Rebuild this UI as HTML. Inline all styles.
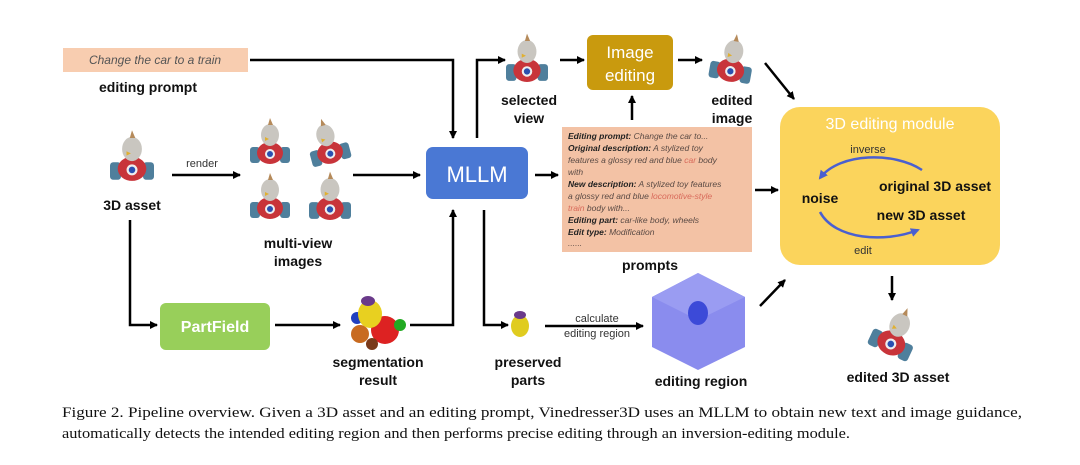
<!DOCTYPE html>
<html><head><meta charset="utf-8"><style>
html,body{margin:0;padding:0;background:#fff;}
svg{display:block;}
text{font-family:"Liberation Sans","DejaVu Sans",sans-serif;}
.lb{font-size:14px;font-weight:bold;fill:#111;text-anchor:middle;}
.pr{font-size:8.5px;font-style:italic;fill:#5a4a44;}
.pb{font-weight:bold;fill:#222;}
</style></head><body>
<svg width="1080" height="465" viewBox="0 0 1080 465" xmlns="http://www.w3.org/2000/svg">
<defs>
<marker id="ah" markerWidth="8" markerHeight="8" refX="7" refY="4" orient="auto" markerUnits="userSpaceOnUse">
<path d="M0,0 L8,4 L0,8 z" fill="#000"/></marker>
<marker id="bh" markerWidth="9" markerHeight="9" refX="7" refY="4.5" orient="auto" markerUnits="userSpaceOnUse">
<path d="M0,0 L9,4.5 L0,9 z" fill="#4a5fd0"/></marker>
<g id="toy">
<rect x="-20" y="2" width="10" height="16" rx="3" fill="#4f7f9c"/>
<rect x="10" y="2" width="10" height="16" rx="3" fill="#4f7f9c"/>
<ellipse cx="0" cy="8" rx="13" ry="11" fill="#c8343a"/>
<circle cx="0" cy="9" r="5" fill="#eee"/><circle cx="0" cy="9" r="3" fill="#2a50b0"/>
<ellipse cx="0" cy="-10" rx="9" ry="11" fill="#c9c6c0"/>
<path d="M-2,-20 L0,-27 L3,-20z" fill="#b58a5a"/>
<path d="M-5,-8 L-1,-6 L-5,-4z" fill="#e0b030"/>
</g>
</defs>

<rect x="63" y="48" width="185" height="24" fill="#f8cdb0"/>
<text x="155" y="64" text-anchor="middle" style="font-size:12px;font-style:italic;fill:#555">Change the car to a train</text>
<text x="148" y="92" class="lb">editing prompt</text>
<path d="M250,60 H453 V138" fill="none" stroke="#000" stroke-width="2.5" marker-end="url(#ah)"/>

<use href="#toy" transform="translate(132,160) scale(1.1)"/>
<text x="132" y="210" class="lb">3D asset</text>
<text x="202" y="167" text-anchor="middle" style="font-size:11px;fill:#333">render</text>
<line x1="172" y1="175" x2="240" y2="175" stroke="#000" stroke-width="2.5" marker-end="url(#ah)"/>

<use href="#toy" transform="translate(270,145) scale(1)"/>
<use href="#toy" transform="translate(328,145) scale(1) rotate(-15)"/>
<use href="#toy" transform="translate(270,200) scale(1)"/>
<use href="#toy" transform="translate(330,200) scale(1.05)"/>
<text x="298" y="248" class="lb">multi-view</text>
<text x="298" y="266" class="lb">images</text>
<line x1="353" y1="175" x2="420" y2="175" stroke="#000" stroke-width="2.5" marker-end="url(#ah)"/>

<rect x="426" y="147" width="102" height="52" rx="7" fill="#4a78d4"/>
<text x="477" y="182" text-anchor="middle" style="font-size:22px;fill:#fff">MLLM</text>
<path d="M477,138 V60 H505" fill="none" stroke="#000" stroke-width="2.5" marker-end="url(#ah)"/>
<line x1="535" y1="175" x2="558" y2="175" stroke="#000" stroke-width="2.5" marker-end="url(#ah)"/>
<path d="M484,210 V325 H508" fill="none" stroke="#000" stroke-width="2.5" marker-end="url(#ah)"/>

<use href="#toy" transform="translate(527,62) scale(1.05)"/>
<text x="529" y="105" class="lb">selected</text>
<text x="529" y="123" class="lb">view</text>
<line x1="560" y1="60" x2="584" y2="60" stroke="#000" stroke-width="2.5" marker-end="url(#ah)"/>

<rect x="587" y="35" width="86" height="55" rx="6" fill="#c99a0e"/>
<text x="630" y="58" text-anchor="middle" style="font-size:17px;fill:#fff">Image</text>
<text x="630" y="81" text-anchor="middle" style="font-size:17px;fill:#fff">editing</text>
<line x1="632" y1="120" x2="632" y2="96" stroke="#000" stroke-width="2.5" marker-end="url(#ah)"/>
<line x1="678" y1="60" x2="702" y2="60" stroke="#000" stroke-width="2.5" marker-end="url(#ah)"/>

<use href="#toy" transform="translate(732,62) scale(1.05) rotate(10)"/>
<text x="732" y="105" class="lb">edited</text>
<text x="732" y="123" class="lb">image</text>
<line x1="765" y1="63" x2="794" y2="99" stroke="#000" stroke-width="2.5" marker-end="url(#ah)"/>

<rect x="562" y="127" width="190" height="125" fill="#f3c2a5"/>
<text class="pr">
<tspan x="568" y="139"><tspan class="pb">Editing prompt:</tspan> Change the car to...</tspan>
<tspan x="568" y="151"><tspan class="pb">Original description:</tspan> A stylized toy</tspan>
<tspan x="568" y="163">features a glossy red and blue <tspan fill="#d86a5a">car</tspan> body</tspan>
<tspan x="568" y="175">with</tspan>
<tspan x="568" y="187"><tspan class="pb">New description:</tspan> A stylized toy features</tspan>
<tspan x="568" y="199">a glossy red and blue <tspan fill="#d86a5a">locomotive-style</tspan></tspan>
<tspan x="568" y="211"><tspan fill="#d86a5a">train</tspan> body with...</tspan>
<tspan x="568" y="223"><tspan class="pb">Editing part:</tspan> car-like body, wheels</tspan>
<tspan x="568" y="235"><tspan class="pb">Edit type:</tspan> Modification</tspan>
<tspan x="568" y="246">......</tspan>
</text>
<text x="650" y="270" class="lb">prompts</text>
<line x1="755" y1="190" x2="778" y2="190" stroke="#000" stroke-width="2.5" marker-end="url(#ah)"/>

<rect x="780" y="107" width="220" height="158" rx="20" fill="#fbd45c"/>
<text x="890" y="129" text-anchor="middle" style="font-size:16px;fill:#fff">3D editing module</text>
<text x="868" y="153" text-anchor="middle" style="font-size:11px;fill:#333">inverse</text>
<path d="M922,170 C895,152 840,152 820,178" fill="none" stroke="#4a5fd0" stroke-width="2.5" marker-end="url(#bh)"/>
<text x="820" y="203" text-anchor="middle" style="font-size:14px;font-weight:bold;fill:#111">noise</text>
<text x="935" y="191" text-anchor="middle" style="font-size:14px;font-weight:bold;fill:#111">original 3D asset</text>
<text x="921" y="220" text-anchor="middle" style="font-size:14px;font-weight:bold;fill:#111">new 3D asset</text>
<path d="M820,212 C835,240 885,243 918,230" fill="none" stroke="#4a5fd0" stroke-width="2.5" marker-end="url(#bh)"/>
<text x="863" y="254" text-anchor="middle" style="font-size:11px;fill:#333">edit</text>

<line x1="892" y1="276" x2="892" y2="300" stroke="#000" stroke-width="2.5" marker-end="url(#ah)"/>
<use href="#toy" transform="translate(895,335) scale(1.1) rotate(25)"/>
<text x="898" y="382" class="lb">edited 3D asset</text>

<path d="M130,220 V325 H157" fill="none" stroke="#000" stroke-width="2.5" marker-end="url(#ah)"/>
<rect x="160" y="303" width="110" height="47" rx="6" fill="#98cf5a"/>
<text x="215" y="332" text-anchor="middle" style="font-size:16px;font-weight:bold;fill:#fff">PartField</text>
<line x1="275" y1="325" x2="340" y2="325" stroke="#000" stroke-width="2.5" marker-end="url(#ah)"/>
<g>
<circle cx="385" cy="330" r="14" fill="#d22"/>
<circle cx="360" cy="334" r="9" fill="#c86a20"/>
<circle cx="357" cy="318" r="6" fill="#2040c0"/>
<circle cx="400" cy="325" r="6" fill="#2a2"/>
<ellipse cx="370" cy="314" rx="12" ry="14" fill="#e8d020"/>
<ellipse cx="368" cy="301" rx="7" ry="5" fill="#6a3a8a"/>
<circle cx="372" cy="344" r="6" fill="#7a3a1a"/>
</g>
<text x="378" y="367" class="lb">segmentation</text>
<text x="378" y="385" class="lb">result</text>
<path d="M410,325 H453 V210" fill="none" stroke="#000" stroke-width="2.5" marker-end="url(#ah)"/>

<ellipse cx="520" cy="326" rx="9" ry="11" fill="#e0cc20"/>
<ellipse cx="520" cy="315" rx="6" ry="4" fill="#6a3a8a"/>
<text x="528" y="367" class="lb">preserved</text>
<text x="528" y="385" class="lb">parts</text>
<text x="597" y="322" text-anchor="middle" style="font-size:11px;fill:#333">calculate</text>
<text x="597" y="337" text-anchor="middle" style="font-size:11px;fill:#333">editing region</text>
<line x1="545" y1="326" x2="643" y2="326" stroke="#000" stroke-width="2.5" marker-end="url(#ah)"/>

<polygon points="698,273 745,297 745,347 698,370 652,347 652,297" fill="#8a8cee"/>
<polygon points="698,273 745,297 698,320 652,297" fill="#9a9cf2"/>
<ellipse cx="698" cy="313" rx="10" ry="12" fill="#3c4ad8"/>
<text x="701" y="386" class="lb">editing region</text>
<line x1="760" y1="306" x2="785" y2="280" stroke="#000" stroke-width="2.5" marker-end="url(#ah)"/>

<text x="62" y="417" textLength="960" lengthAdjust="spacingAndGlyphs" style="font-family:'Liberation Serif',serif;font-size:15px;fill:#111">Figure 2. Pipeline overview. Given a 3D asset and an editing prompt, Vinedresser3D uses an MLLM to obtain new text and image guidance,</text>
<text x="62" y="438" textLength="788" lengthAdjust="spacingAndGlyphs" style="font-family:'Liberation Serif',serif;font-size:15px;fill:#111">automatically detects the intended editing region and then performs precise editing through an inversion-editing module.</text>
</svg>
</body></html>
